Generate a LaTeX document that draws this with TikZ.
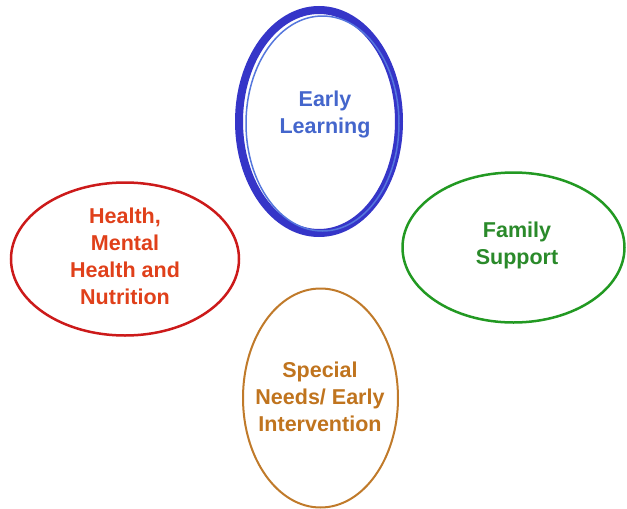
\documentclass[tikz,border=0pt]{standalone}
\usepackage{fontspec}
\setmainfont{Liberation Sans}
\usetikzlibrary{shapes.geometric}
\definecolor{blueline}{HTML}{3535C8}
\definecolor{bluethin}{HTML}{5577DD}
\definecolor{bluetext}{HTML}{4466CC}
\definecolor{redline}{HTML}{CC1A1A}
\definecolor{redtext}{HTML}{E0401A}
\definecolor{greenline}{HTML}{229922}
\definecolor{greentext}{HTML}{2A8A2A}
\definecolor{orangeline}{HTML}{C07A2A}
\definecolor{orangetext}{HTML}{C0741E}
\tikzset{
  oval/.style={ellipse, draw, inner sep=0pt, fill=white},
  lbl/.style={align=center, inner sep=0pt, font=\fontsize{21.5}{27}\selectfont\bfseries}
}
\begin{document}
\begin{tikzpicture}[x=1pt,y=-1pt]
\useasboundingbox (0,0) rectangle (627,509);
% Early Learning
\node[oval, draw=blueline, line width=8pt, minimum width=160pt, minimum height=223pt] (el) at (319,121.5) {};
\draw[bluethin, line width=1.5pt] (322.5,123.5) ellipse [x radius=76.5pt, y radius=107.5pt];
\node[lbl, text=bluetext] (elt) at (325,114) {Early\\Learning};
% Health
\node[oval, draw=redline, line width=2.5pt, minimum width=228pt, minimum height=153pt] (hm) at (125,259) {};
\node[lbl, text=redtext] (hmt) at (125,256.5) {Health,\\Mental\\Health and\\Nutrition};
% Family Support
\node[oval, draw=greenline, line width=2.5pt, minimum width=222pt, minimum height=150pt] (fs) at (513.5,247.5) {};
\node[lbl, text=greentext] (fst) at (517,245) {Family\\Support};
% Special Needs
\node[oval, draw=orangeline, line width=2pt, minimum width=155pt, minimum height=219pt] (sn) at (320.5,398) {};
\node[lbl, text=orangetext] (snt) at (320,397) {Special\\Needs/ Early\\Intervention};
\end{tikzpicture}
\end{document}
